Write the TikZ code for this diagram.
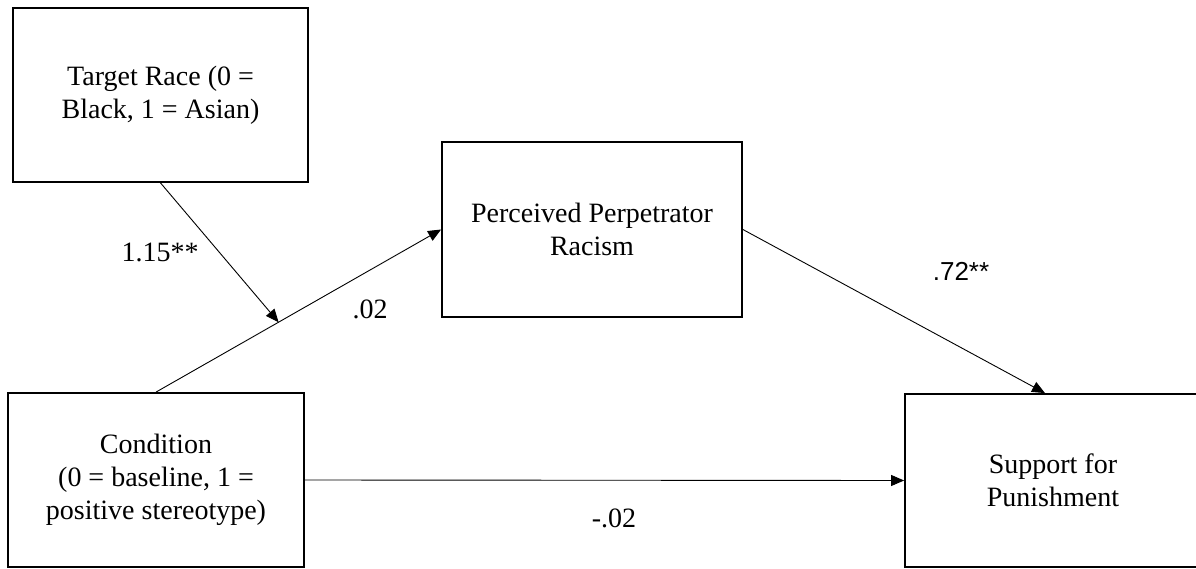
\documentclass[tikz,border=0pt]{standalone}
\usepackage{fontspec}
\setmainfont{Liberation Serif}
\newfontfamily\lblsans{Liberation Sans}
\usetikzlibrary{arrows.meta,calc}
\begin{document}
\begin{tikzpicture}[x=1pt,y=-1pt,
  box/.style={draw=black,line width=1.8pt,inner sep=0pt,align=center,
    font=\fontsize{28}{33}\selectfont},
  conn/.style={draw=black,line width=0.9pt,-{Triangle[length=13pt,width=11pt]}},
  lbl/.style={font=\fontsize{28}{33}\selectfont,inner sep=0pt}]
\useasboundingbox (0,0) rectangle (1196,569);
\clip (0,0) rectangle (1196,569);
\node[box,minimum width=295pt,minimum height=174pt] (target) at (160.5,95) {Target Race (0 =\\Black, 1 = Asian)};
\node[box,minimum width=300pt,minimum height=175pt] (perc) at (592,229.5) {Perceived Perpetrator\\Racism};
\node[box,minimum width=296pt,minimum height=174pt] (cond) at (156,480) {Condition\\(0 = baseline, 1 =\\positive stereotype)};
\node[box,minimum width=296pt,minimum height=173pt] (supp) at (1053,480.5) {Support for\\Punishment};
\draw[conn] (cond.north) -- coordinate[pos=0.43] (m) (perc.west);
\draw[conn] (target.south) -- (m);
\draw[conn] (perc.east) -- ($(supp.north)+(-8,0)$);
\draw[conn] (cond.east) -- (supp.west);
\node[lbl] (l1) at (160,252) {1.15**};
\node[lbl] (l2) at (370,309) {.02};
\node[lbl,font=\lblsans\fontsize{26}{30}\selectfont] (l3) at (961,271) {.72**};
\node[lbl] (l4) at (614,518) {-.02};
\end{tikzpicture}
\end{document}
